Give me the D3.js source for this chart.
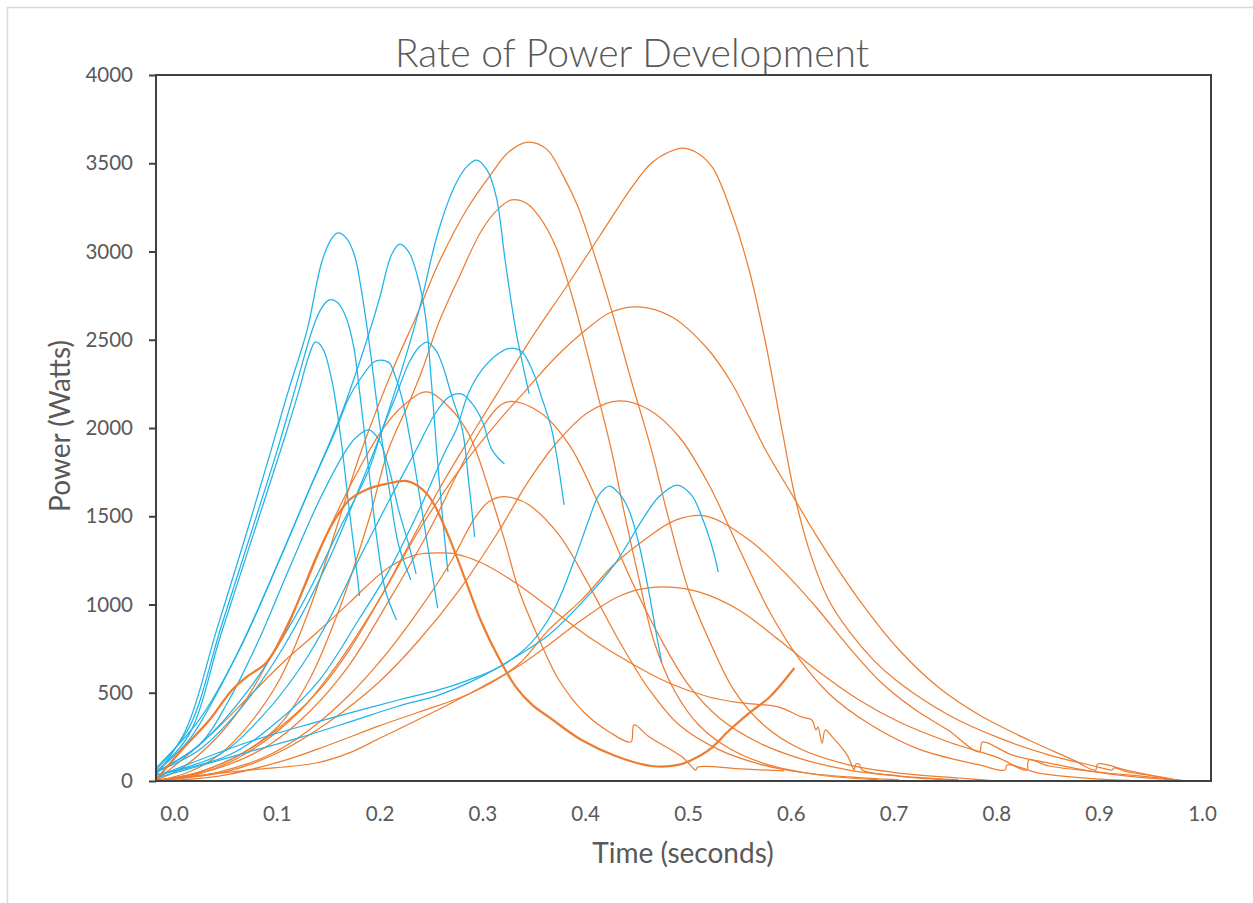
<!DOCTYPE html>
<html>
<head>
<meta charset="utf-8">
<script src="https://cdn.jsdelivr.net/npm/d3@7"></script>
<style>
  body { margin: 0; background: #fff; }
  svg { display: block; }
  text { font-family: Lato, "Open Sans", "Noto Sans", sans-serif; fill: #595959; }
</style>
</head>
<body>
<svg id="chart" width="1253" height="903"></svg>
<script>
// Axis ticks
const timeTicks = [0, 0.1, 0.2, 0.3, 0.4, 0.5, 0.6, 0.7, 0.8, 0.9, 1.0];
const powerTicks = [0, 500, 1000, 1500, 2000, 2500, 3000, 3500, 4000];

// Blue trials: [time (s), power (W)]
const blue1 = [[0,34],[.029,289],[.059,856],[.089,1422],[.112,1875],[.129,2215],[.147,2555],[.161,2935],[.170,3065],[.177,3105],[.185,3077],[.193,2980],[.199,2810],[.207,2499],[.217,2045],[.227,1649],[.236,1337],[.248,1139]];
const blue2 = [[0,62],[.032,300],[.063,867],[.094,1433],[.118,1875],[.135,2215],[.152,2555],[.160,2669],[.168,2725],[.176,2714],[.184,2640],[.192,2470],[.199,2159],[.207,1762],[.215,1366],[.223,1082],[.234,912]];
const blue3 = [[0,51],[.032,261],[.063,827],[.092,1349],[.126,1960],[.139,2210],[.149,2414],[.155,2487],[.162,2453],[.171,2272],[.180,1932],[.188,1536],[.194,1252],[.198,1048]];
const blue4 = [[0,74],[.042,346],[.081,742],[.120,1252],[.149,1649],[.178,2045],[.202,2442],[.217,2725],[.229,2980],[.237,3042],[.246,2997],[.254,2867],[.262,2640],[.268,2255],[.273,1875],[.279,1479],[.284,1184]];
const blue5 = [[0,51],[.042,176],[.081,402],[.110,629],[.139,912],[.168,1252],[.197,1649],[.220,1989],[.239,2329],[.256,2669],[.275,3122],[.292,3388],[.303,3485],[.312,3518],[.322,3462],[.331,3309],[.340,2935],[.350,2555],[.363,2193]];
const blue6 = [[0,51],[.032,232],[.061,516],[.090,856],[.120,1252],[.149,1649],[.175,1989],[.188,2176],[.200,2289],[.212,2374],[.219,2385],[.227,2368],[.233,2289],[.239,2176],[.249,1875],[.261,1450],[.274,980]];
const blue7 = [[0,51],[.042,204],[.090,516],[.139,969],[.178,1422],[.207,1762],[.220,1989],[.233,2176],[.246,2368],[.256,2459],[.264,2487],[.272,2442],[.278,2368],[.288,2176],[.298,1989],[.304,1705],[.310,1382]];
const blue8 = [[0,51],[.042,204],[.071,459],[.100,799],[.129,1196],[.159,1592],[.185,1875],[.195,1949],[.207,1989],[.217,1932],[.227,1762],[.236,1536],[.246,1337],[.253,1173]];
const blue9 = [[0,34],[.061,147],[.100,346],[.139,629],[.168,912],[.197,1252],[.227,1592],[.253,1875],[.272,2085],[.285,2176],[.297,2193],[.307,2142],[.317,2045],[.327,1875],[.339,1796]];
const blue10 = [[0,34],[.071,147],[.120,346],[.159,572],[.197,912],[.227,1196],[.256,1536],[.282,1875],[.292,1989],[.304,2198],[.317,2329],[.334,2425],[.346,2453],[.356,2431],[.366,2329],[.375,2176],[.385,1989],[.397,1564]];
const blue11 = [[0,23],[.042,119],[.090,221],[.139,306],[.188,385],[.236,459],[.275,516],[.304,572],[.334,646],[.363,771],[.387,969],[.407,1252],[.421,1479],[.431,1621],[.441,1671],[.450,1632],[.460,1536],[.470,1337],[.480,1054],[.486,856],[.492,669]];
const blue12 = [[0,17],[.042,85],[.090,164],[.139,244],[.188,334],[.236,425],[.275,487],[.314,584],[.353,714],[.382,827],[.414,1009],[.447,1235],[.473,1479],[.489,1609],[.507,1677],[.521,1620],[.531,1496],[.541,1326],[.547,1184]];

// Orange trials: [time (s), power (W)]
const orange1 = [[0,0],[.032,51],[.061,147],[.090,317],[.120,572],[.149,969],[.178,1479],[.200,1875],[.233,2368],[.253,2629],[.275,2935],[.302,3235],[.324,3422],[.343,3564],[.362,3620],[.380,3580],[.396,3430],[.410,3260],[.424,3026],[.443,2669],[.463,2255],[.482,1875],[.499,1479],[.518,1082],[.538,799],[.562,516],[.591,317],[.625,187],[.674,91],[.723,45],[.781,17],[.820,0]];
const orange2 = [[0,0],[.042,51],[.081,147],[.120,317],[.149,572],[.178,969],[.207,1479],[.226,1875],[.246,2142],[.259,2329],[.275,2595],[.295,2856],[.317,3122],[.334,3247],[.346,3292],[.360,3275],[.373,3196],[.389,3026],[.405,2742],[.418,2459],[.431,2159],[.443,1875],[.455,1535],[.470,1139],[.484,799],[.504,516],[.528,317],[.557,187],[.596,91],[.645,34],[.703,6]];
const orange3 = [[0,0],[.042,51],[.090,176],[.129,346],[.159,516],[.188,742],[.217,1026],[.246,1337],[.275,1649],[.304,1932],[.334,2215],[.366,2516],[.399,2799],[.431,3082],[.463,3365],[.482,3501],[.499,3564],[.512,3586],[.525,3564],[.541,3479],[.560,3218],[.577,2895],[.593,2482],[.609,1989],[.623,1575],[.637,1280],[.654,1030],[.674,850],[.698,685],[.722,561],[.771,374],[.820,244],[.869,147],[.917,79],[.930,62],[.932,74],[.945,51],[.966,34],[1.0,0]];
const orange4 = [[0,0],[.042,40],[.090,164],[.139,391],[.178,674],[.217,1026],[.256,1422],[.295,1762],[.334,2045],[.360,2215],[.389,2402],[.418,2555],[.443,2657],[.470,2686],[.502,2629],[.535,2459],[.560,2255],[.593,1875],[.616,1649],[.645,1366],[.684,1026],[.723,742],[.762,527],[.801,374],[.849,232],[.890,125],[.914,62],[.916,96],[.947,57],[.995,0]];
const orange5 = [[0,6],[.022,62],[.052,204],[.081,402],[.110,686],[.139,1026],[.168,1422],[.197,1762],[.220,1989],[.239,2119],[.263,2204],[.285,2119],[.302,1989],[.311,1875],[.324,1649],[.339,1366],[.353,1082],[.373,799],[.392,572],[.416,391],[.441,278],[.462,221],[.465,317],[.480,249],[.512,136],[.525,62],[.527,79],[.570,68],[.611,57]];
const orange6 = [[0,0],[.061,74],[.110,204],[.149,391],[.188,657],[.227,1026],[.266,1422],[.295,1762],[.319,2017],[.341,2147],[.373,2091],[.402,1904],[.431,1564],[.460,1167],[.489,827],[.518,544],[.548,357],[.587,215],[.625,130],[.674,62],[.723,28],[.781,6]];
const orange7 = [[0,0],[.071,57],[.120,164],[.168,334],[.217,561],[.256,799],[.295,1082],[.334,1422],[.363,1705],[.392,1932],[.421,2091],[.451,2153],[.480,2102],[.509,1949],[.538,1677],[.567,1320],[.596,969],[.625,697],[.655,493],[.694,323],[.742,181],[.801,91],[.826,62],[.828,91],[.859,45],[.917,11],[.966,0]];
const orange8 = [[0,6],[.025,176],[.052,346],[.074,516],[.088,589],[.107,669],[.123,816],[.140,1042],[.156,1269],[.172,1462],[.188,1592],[.204,1649],[.224,1683],[.243,1700],[.256,1666],[.268,1592],[.285,1382],[.301,1139],[.317,895],[.333,703],[.350,533],[.366,431],[.382,363],[.414,232],[.447,142],[.482,85],[.508,91],[.521,119],[.538,176],[.558,289],[.577,385],[.597,476],[.621,640]];
const orange9 = [[0,0],[.061,51],[.110,147],[.149,289],[.188,487],[.227,742],[.256,969],[.285,1224],[.309,1479],[.322,1575],[.334,1609],[.348,1603],[.363,1564],[.392,1394],[.421,1111],[.450,799],[.480,516],[.509,317],[.548,176],[.587,96],[.625,51],[.674,23],[.723,6]];
const orange10 = [[0,0],[.061,28],[.120,108],[.168,204],[.217,312],[.256,391],[.295,470],[.324,550],[.353,663],[.382,856],[.414,1026],[.447,1235],[.479,1383],[.506,1479],[.535,1501],[.577,1366],[.609,1196],[.642,986],[.674,759],[.706,555],[.739,402],[.770,290],[.801,165],[.804,221],[.833,147],[.870,100],[.910,55],[.950,25],[.985,8],[1.0,0]];
const orange11 = [[0,6],[.025,119],[.058,289],[.090,476],[.123,669],[.156,839],[.188,1009],[.204,1099],[.227,1213],[.253,1281],[.275,1292],[.292,1286],[.317,1235],[.350,1122],[.382,986],[.421,816],[.460,674],[.499,555],[.538,476],[.570,442],[.606,419],[.628,363],[.638,346],[.642,289],[.644,306],[.648,215],[.651,289],[.658,249],[.671,159],[.676,102],[.679,62],[.681,96],[.684,96],[.687,62],[.723,28],[.771,6]];
const orange12 = [[0,6],[.090,62],[.156,102],[.188,159],[.220,249],[.268,385],[.317,533],[.350,640],[.382,771],[.414,912],[.447,1037],[.473,1088],[.499,1099],[.528,1071],[.567,969],[.606,799],[.645,618],[.684,459],[.723,334],[.771,221],[.820,130],[.847,62],[.849,119],[.869,85],[.917,51],[.966,23],[1.005,0]];

const blueSeries = [blue1, blue2, blue3, blue4, blue5, blue6, blue7, blue8, blue9, blue10, blue11, blue12];
const orangeSeries = [orange1, orange2, orange3, orange4, orange5, orange6, orange7, orange9, orange10, orange11, orange12];
const highlightSeries = orange8;

const blueColor = "#1fb3e8";
const orangeColor = "#ed7d31";

const svg = d3.select("#chart");
const W = 1253, H = 903;
const plot = { left: 156, top: 75, right: 1211, bottom: 781 };

// outer chart-area frame
svg.append("rect")
  .attr("x", 7.5).attr("y", 7.5)
  .attr("width", W).attr("height", H)
  .attr("fill", "#fff").attr("stroke", "#d9d9d9").attr("stroke-width", 1.5);

const x = d3.scaleLinear().domain([0, 1.0263]).range([plot.left, plot.right]);
const y = d3.scaleLinear().domain([0, 4000]).range([plot.bottom, plot.top]);

svg.append("clipPath").attr("id", "plotClip")
  .append("rect")
  .attr("x", plot.left).attr("y", plot.top)
  .attr("width", plot.right - plot.left).attr("height", plot.bottom - plot.top);

const line = d3.line()
  .x(d => x(d[0]))
  .y(d => y(d[1]))
  .curve(d3.curveCatmullRom.alpha(0.5));

const lines = svg.append("g").attr("clip-path", "url(#plotClip)").attr("fill", "none");

lines.selectAll("path.orange")
  .data(orangeSeries)
  .join("path")
  .attr("class", "orange")
  .attr("d", line)
  .attr("stroke", orangeColor)
  .attr("stroke-width", 1.25);

lines.selectAll("path.blue")
  .data(blueSeries)
  .join("path")
  .attr("class", "blue")
  .attr("d", line)
  .attr("stroke", blueColor)
  .attr("stroke-width", 1.25);

lines.append("path")
  .datum(highlightSeries)
  .attr("d", line)
  .attr("stroke", orangeColor)
  .attr("stroke-width", 2.25);

// plot border
svg.append("rect")
  .attr("x", plot.left).attr("y", plot.top)
  .attr("width", plot.right - plot.left).attr("height", plot.bottom - plot.top)
  .attr("fill", "none").attr("stroke", "#404040").attr("stroke-width", 2);

// y axis
const yAxis = svg.append("g")
  .attr("transform", `translate(${plot.left},0)`)
  .call(d3.axisLeft(y).tickValues(powerTicks).tickSize(7).tickPadding(16).tickFormat(d3.format("d")));
yAxis.select(".domain").remove();
yAxis.selectAll(".tick line").attr("stroke", "#404040").attr("stroke-width", 2);
yAxis.selectAll(".tick text").attr("font-size", 20.5).style("fill", "#595959").attr("font-family", "Lato, sans-serif");

// x axis
const xAxis = svg.append("g")
  .attr("transform", `translate(0,${plot.bottom})`)
  .call(d3.axisBottom(x).tickValues(timeTicks).tickSize(0).tickFormat(d3.format(".1f")));
xAxis.select(".domain").remove();
xAxis.selectAll(".tick text")
  .attr("y", 40).attr("dy", 0).attr("dx", 18)
  .attr("font-size", 20.5).style("fill", "#595959").attr("font-family", "Lato, sans-serif");

// titles
svg.append("text")
  .attr("x", 632).attr("y", 67)
  .attr("text-anchor", "middle")
  .attr("font-size", 39)
  .attr("font-weight", 300)
  .text("Rate of Power Development");

svg.append("text")
  .attr("x", 683).attr("y", 863)
  .attr("text-anchor", "middle")
  .attr("font-size", 28)
  .text("Time (seconds)");

svg.append("text")
  .attr("transform", "translate(70,426) rotate(-90)")
  .attr("text-anchor", "middle")
  .attr("font-size", 28)
  .text("Power (Watts)");
</script>
</body>
</html>
